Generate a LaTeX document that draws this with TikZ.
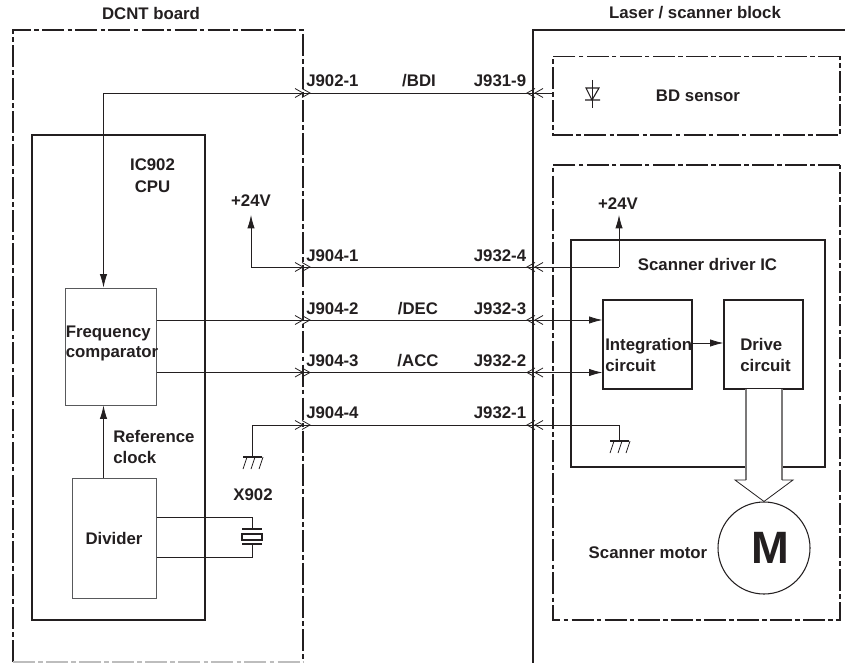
\documentclass[tikz,border=0pt]{standalone}
\usepackage{fontspec}
\setmainfont{Liberation Sans}
\usetikzlibrary{arrows.meta,calc}
\definecolor{InkDark}{HTML}{231F20}
\definecolor{InkGrey}{HTML}{58595B}
\definecolor{InkEdge}{HTML}{BDBDBD}
\begin{document}
\begin{tikzpicture}[
  x=0.75pt,y=-0.75pt,
  lbl/.style={font=\fontsize{12.6}{15}\selectfont\bfseries,align=center,text=InkDark,inner sep=0pt},
  lblleft/.style={lbl,align=left,anchor=west},
  block/.style={draw=InkDark,line width=0.9pt,fill=white,lbl},
  subblock/.style={draw=InkGrey,line width=0.75pt,fill=white,lbl},
  boundary/.style={draw=InkDark,line width=0.9pt,dash pattern=on 16.5pt off 2.4pt on 3.5pt off 2.4pt},
  wire/.style={draw=InkDark,line width=0.6pt},
  tip/.style={wire,-{Latex[length=10pt,width=5.5pt]}},
  pinr/.pic={\draw[wire] (-8,-4.5) -- (0,0) -- (-8,4.5) (-1,-4.5) -- (7,0) -- (-1,4.5);},
  pinl/.pic={\draw[wire] (8,-4.5) -- (0,0) -- (8,4.5) (16,-4.5) -- (8,0) -- (16,4.5);},
  ground/.pic={\draw[wire,line width=0.8pt] (-9,0) -- (10,0);
    \draw[wire] (-5,0) -- (-9,12) (3,0) -- (-1,12) (11,0) -- (7,12);}
]
\useasboundingbox (0,0) rectangle (845,663);
% outer blocks
\draw[boundary] (13,662) -- (13,30) -- (303,30) -- (303,662);
\draw[InkEdge,line width=0.8pt,dash pattern=on 16.5pt off 2.4pt on 3.5pt off 2.4pt] (13,662) -- (303,662);
\draw[InkDark,line width=1pt] (533,663) -- (533,30) -- (845,30);
\draw[boundary] (840,56.5) -- (553,56.5) -- (553,135) -- (840,135) -- cycle;
\draw[boundary] (840,165) -- (553,165) -- (553,620) -- (840,620) -- cycle;
\node[lbl] (dcnt) at (151,13) {DCNT board};
\node[lbl] (laser) at (695,13) {Laser / scanner block};
% left side
\node[block,minimum width=129.75pt,minimum height=363.75pt] (cpu) at (118.5,377.5) {};
\node[lbl] (cputxt) at (152.5,176) {IC902\\[1.5pt]CPU};
\node[subblock,minimum width=68.25pt,minimum height=87.75pt] (freq) at (110.5,346.5) {};
\node[lblleft] (freqtxt) at (65.5,343) {Frequency\\comparator};
\node[subblock,minimum width=63pt,minimum height=90pt] (divider) at (114,538) {Divider};
\node[lblleft] (refclk) at (113,447) {Reference\\[1pt]clock};
\node[lbl] (xtal) at (253,495) {X902};
\node[lbl] (vleft) at (251,201) {+24V};
% right side
\node[block,minimum width=190.5pt,minimum height=170.25pt] (driver) at (698,353.5) {};
\node[lbl] (drvtxt) at (707.5,264) {Scanner driver IC};
\node[block,minimum width=66.75pt,minimum height=66.75pt] (integ) at (647.5,344.5) {};
\node[lblleft] (integtxt) at (605,355) {Integration\\[0.5pt]circuit};
\node[block,minimum width=59.25pt,minimum height=66.75pt] (drive) at (763.5,344.5) {};
\node[lblleft] (drivetxt) at (740,355) {Drive\\[0.5pt]circuit};
\node[lbl] (sensor) at (698,96) {BD sensor};
\node[lbl] (vright) at (618,204) {+24V};
\node[lbl] (mottxt) at (648,553) {Scanner motor};
\node[draw=InkDark,line width=0.8pt,circle,minimum size=69pt,inner sep=0pt,font=\fontsize{34}{34}\selectfont\bfseries,text=InkDark] (motor) at (764,548) {\hspace{10pt}M};
% connector points
\coordinate (j9021) at (303,93);
\coordinate (j9319) at (527,93);
\coordinate (j9041) at (303,267);
\coordinate (j9324) at (527,267);
\coordinate (j9042) at (303,320);
\coordinate (j9323) at (527,320);
\coordinate (j9043) at (303,372.5);
\coordinate (j9322) at (527,372.5);
\coordinate (j9044) at (303,425);
\coordinate (j9321) at (527,425);
\node[lblleft] (l9021) at (306,81) {J902-1};
\node[lbl] (bdi) at (419,81) {/BDI};
\node[lbl] (l9319) at (500,81) {J931-9};
\node[lblleft] (l9041) at (306,256) {J904-1};
\node[lbl] (l9324) at (500,256) {J932-4};
\node[lblleft] (l9042) at (306,309) {J904-2};
\node[lbl] (dec) at (418,309) {/DEC};
\node[lbl] (l9323) at (500,309) {J932-3};
\node[lblleft] (l9043) at (306,361) {J904-3};
\node[lbl] (acc) at (418,361) {/ACC};
\node[lbl] (l9322) at (500,361) {J932-2};
\node[lblleft] (l9044) at (306,413) {J904-4};
\node[lbl] (l9321) at (500,413) {J932-1};
% wires
\coordinate (bdcorner) at (103.5,93);
\coordinate (bdend) at (553,93);
\draw[tip] (j9021 -| bdend) -- (bdcorner) -- (bdcorner |- freq.north);
\coordinate (vlup) at (251,215);
\coordinate (vrup) at (619,215);
\draw[tip] (j9041 -| vrup) -- (j9041 -| vlup) -- (vlup);
\draw[tip] (j9324 -| vrup) -- (vrup);
\draw[tip] (j9042 -| freq.east) -- (j9042 -| integ.west);
\draw[tip] (j9043 -| freq.east) -- (j9043 -| integ.west);
\coordinate (gndl) at (252,457);
\coordinate (gndr) at (619,441);
\draw[wire] (gndl) -- (gndl |- j9044) -- (gndr |- j9044) -- (gndr);
\pic at (gndl) {ground};
\pic at (gndr) {ground};
\pic at (j9021) {pinr};
\pic at (j9041) {pinr};
\pic at (j9042) {pinr};
\pic at (j9043) {pinr};
\pic at (j9044) {pinr};
\pic at (j9319) {pinl};
\pic at (j9324) {pinl};
\pic at (j9323) {pinl};
\pic at (j9322) {pinl};
\pic at (j9321) {pinl};
\draw[tip] (integ.east |- 0,343) -- (drive.west |- 0,343);
\draw[tip] (bdcorner |- divider.north) -- (bdcorner |- freq.south);
% crystal
\coordinate (xtop) at (252,529);
\coordinate (xbot) at (252,544);
\draw[wire] (divider.east |- 0,517.5) -- (xtop |- 0,517.5) -- (xtop);
\draw[wire] (divider.east |- 0,557) -- (xbot |- 0,557) -- (xbot);
\draw[wire,line width=0.9pt] ($(xtop)+(-10,0)$) -- ($(xtop)+(10,0)$) ($(xbot)+(-10,0)$) -- ($(xbot)+(10,0)$);
\draw[wire,line width=0.9pt] (242,534) rectangle (262,540);
% diode
\draw[wire] (592,80) -- (592,108);
\draw[wire,line width=0.8pt] (586,88) -- (599,88) -- (592,100) -- cycle (585,100) -- (600,100);
% big arrow to motor
\fill[white] (746,389) -- (746,480) -- (735,480) -- (motor.north) -- (793,480) -- (782,480) -- (782,389) -- cycle;
\draw[InkDark!60,line width=1pt] (746,389) -- (746,480) (782,389) -- (782,480);
\draw[wire] (746,480) -- (735,480) -- (motor.north) -- (793,480) -- (782,480);
\end{tikzpicture}
\end{document}
